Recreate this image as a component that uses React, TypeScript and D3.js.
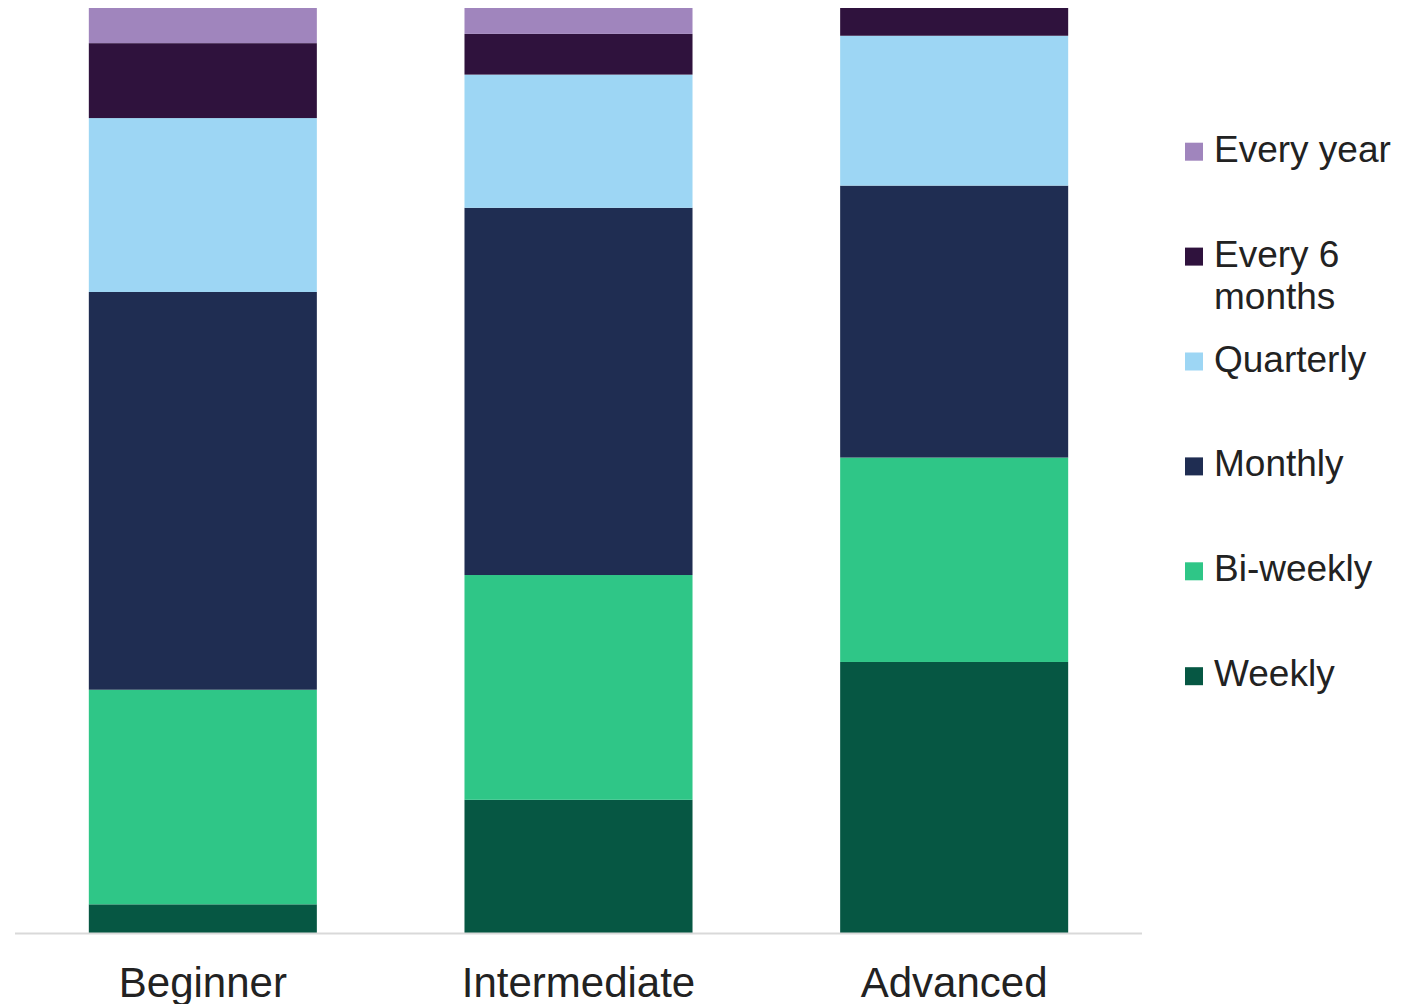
import React from "react";
import * as d3 from "d3";

const categories = ["Beginner", "Intermediate", "Advanced"];
const seriesKeys = ["Weekly", "Bi-weekly", "Monthly", "Quarterly", "Every 6 months", "Every year"];
const weekly = [3.1, 14.4, 29.3];
const biWeekly = [23.2, 24.3, 22.1];
const monthly = [43.0, 39.7, 29.4];
const quarterly = [18.8, 14.4, 16.2];
const every6Months = [8.1, 4.4, 3.0];
const everyYear = [3.8, 2.8, 0];
const colors = ["#065743", "#2fc687", "#1f2d52", "#9dd6f4", "#2f123d", "#a085bd"];
const legendOrder = ["Every year", "Every 6 months", "Quarterly", "Monthly", "Bi-weekly", "Weekly"];
const legendLines: Record<string, string[]> = {
  "Every 6 months": ["Every 6", "months"],
};

export default function App() {
  const W = 1417, H = 1004;
  const table = categories.map((c, i) => ({
    category: c,
    "Weekly": weekly[i],
    "Bi-weekly": biWeekly[i],
    "Monthly": monthly[i],
    "Quarterly": quarterly[i],
    "Every 6 months": every6Months[i],
    "Every year": everyYear[i],
  }));
  const stacked = d3.stack<any>().keys(seriesKeys)(table);
  const x = d3.scaleBand().domain(categories).range([15, 1142]).paddingInner(0.393).paddingOuter(0.1965);
  const y = d3.scaleLinear().domain([0, 100]).range([933, 8]);
  const color = d3.scaleOrdinal<string, string>().domain(seriesKeys).range(colors);
  const font = "'Liberation Sans', Arial, sans-serif";
  const legendY = d3.scalePoint().domain(legendOrder).range([151.7, 151.7 + 104.9 * 5]);

  return (
    <svg width={W} height={H} style={{ position: "absolute", left: 0, top: 0, display: "block" }}>
      <rect width={W} height={H} fill="#ffffff" />
      {stacked.map((s) => (
        <g key={s.key} fill={color(s.key)}>
          {s.map((d, i) => {
            const h = y(d[0]) - y(d[1]);
            if (h <= 0) return null;
            return (
              <rect key={i} x={x(categories[i])} width={x.bandwidth()} y={y(d[1])} height={h} />
            );
          })}
        </g>
      ))}
      <line x1={15} x2={1142} y1={933.5} y2={933.5} stroke="#d9d9d9" strokeWidth={2} />
      {categories.map((c) => (
        <text key={c} x={(x(c) as number) + x.bandwidth() / 2} y={997} textAnchor="middle"
          fontFamily={font} fontSize={42} fill="#222">{c}</text>
      ))}
      {legendOrder.map((k) => {
        const cy = legendY(k) as number;
        const lines = legendLines[k] || [k];
        return (
          <g key={k}>
            <rect x={1185} y={cy - 9} width={18} height={18} fill={color(k)} />
            <text x={1214} y={cy + 10} fontFamily={font} fontSize={37} fill="#222">
              {lines.map((ln, j) => (
                <tspan key={j} x={1214} dy={j === 0 ? 0 : 42.7}>{ln}</tspan>
              ))}
            </text>
          </g>
        );
      })}
    </svg>
  );
}
